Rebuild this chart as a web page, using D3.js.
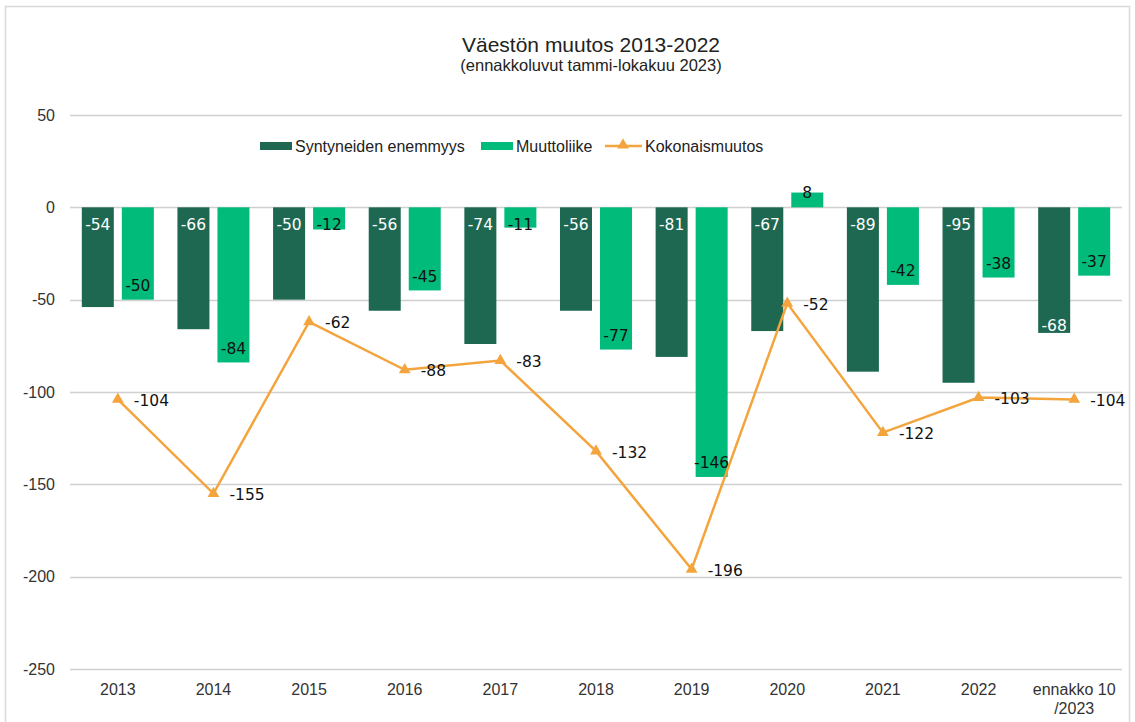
<!DOCTYPE html>
<html>
<head>
<meta charset="utf-8">
<script src="https://cdn.jsdelivr.net/npm/d3@7"></script>
<style>
  body { margin: 0; background: #fff; }
  svg { display: block; }
</style>
</head>
<body>
<script>
// data
const categories = ['2013', '2014', '2015', '2016', '2017', '2018', '2019', '2020', '2021', '2022', 'ennakko 10\n/2023'];
const syntyneet = [-54, -66, -50, -56, -74, -56, -81, -67, -89, -95, -68];
const muutto = [-50, -84, -12, -45, -11, -77, -146, 8, -42, -38, -37];
const kokonais = [-104, -155, -62, -88, -83, -132, -196, -52, -122, -103, -104];
const yTicks = [50, 0, -50, -100, -150, -200, -250];

const width = 1135, height = 722;
const narrow = "'Liberation Sans Narrow', 'Arial Narrow', 'Liberation Sans', sans-serif";
const wide = "'DejaVu Sans', Verdana, sans-serif";

let svg = d3.select('body').append('svg')
  .attr('width', width).attr('height', height);

// chart border
svg.append('rect')
  .attr('x', 5.5).attr('y', 6.5).attr('width', 1124).attr('height', 740)
  .attr('fill', 'none').attr('stroke', '#d9d9d9').attr('stroke-width', 1.5);

var x0 = d3.scaleBand().domain(categories).range([70, 1122]);
var x1 = d3.scaleBand().domain(['s', 'm']).range([0, x0.bandwidth()])
  .paddingInner(0.2).paddingOuter(0.295);
var y = d3.scaleLinear().domain([-250, 50]).range([669, 115]);

// gridlines + y labels
svg.append('g').selectAll('line').data(yTicks).join('line')
  .attr('x1', 70).attr('x2', 1122)
  .attr('y1', d => Math.round(y(d)) + 0.5).attr('y2', d => Math.round(y(d)) + 0.5)
  .attr('stroke', '#d0d0d0').attr('stroke-width', 1.3);

svg.append('g').selectAll('text').data(yTicks).join('text')
  .attr('x', 55).attr('y', d => y(d)).attr('dy', '0.35em')
  .attr('text-anchor', 'end')
  .style('font-family', narrow).style('font-size', '16px').attr('fill', '#333')
  .text(d => d);

// x labels
let xl = svg.append('g').selectAll('text').data(categories).join('text')
  .attr('x', d => x0(d) + x0.bandwidth() / 2).attr('y', 695)
  .attr('text-anchor', 'middle')
  .style('font-family', narrow).style('font-size', '16px').attr('fill', '#333');
xl.each(function(d) {
  d.split('\n').forEach((t, i) => {
    d3.select(this).append('tspan')
      .attr('x', x0(d) + x0.bandwidth() / 2).attr('dy', i ? 19 : 0).text(t);
  });
});

// bars
const dark = '#1e6852', light = '#00bb7a', orange = '#f4a43c';
svg.append('g').selectAll('rect').data(syntyneet).join('rect')
  .attr('x', (d, i) => x0(categories[i]) + x1('s'))
  .attr('width', x1.bandwidth())
  .attr('y', d => y(Math.max(0, d)))
  .attr('height', d => Math.abs(y(d) - y(0)))
  .attr('fill', dark);
svg.append('g').selectAll('rect').data(muutto).join('rect')
  .attr('x', (d, i) => x0(categories[i]) + x1('m'))
  .attr('width', x1.bandwidth())
  .attr('y', d => y(Math.max(0, d)))
  .attr('height', d => Math.abs(y(d) - y(0)))
  .attr('fill', light);

// bar labels
svg.append('g').selectAll('text').data(syntyneet).join('text')
  .attr('x', (d, i) => x0(categories[i]) + x1('s') + x1.bandwidth() / 2)
  .attr('y', (d, i) => i == categories.length - 1 ? y(d) - 7 : y(0) + 17)
  .attr('dy', '0.35em').attr('text-anchor', 'middle')
  .style('font-family', wide).style('font-size', '15.5px').attr('fill', '#fff')
  .text(d => d);
svg.append('g').selectAll('text').data(muutto).join('text')
  .attr('x', (d, i) => x0(categories[i]) + x1('m') + x1.bandwidth() / 2)
  .attr('y', d => d > 0 ? y(d) : Math.max(y(d) - 14, y(0) + 17))
  .attr('dy', '0.35em').attr('text-anchor', 'middle')
  .style('font-family', wide).style('font-size', '15.5px').attr('fill', '#111')
  .text(d => d);

// total line
var line = d3.line()
  .x((d, i) => x0(categories[i]) + x0.bandwidth() / 2)
  .y(d => y(d));
svg.append('path').datum(kokonais)
  .attr('d', line).attr('fill', 'none')
  .attr('stroke', orange).attr('stroke-width', 2.5);
var tri = d3.symbol().type(d3.symbolTriangle).size(60);
svg.append('g').selectAll('path').data(kokonais).join('path')
  .attr('transform', (d, i) => `translate(${x0(categories[i]) + x0.bandwidth() / 2},${y(d)})`)
  .attr('d', tri).attr('fill', orange);
svg.append('g').selectAll('text').data(kokonais).join('text')
  .attr('x', (d, i) => x0(categories[i]) + x0.bandwidth() / 2 + 16)
  .attr('y', d => y(d) + 1).attr('dy', '0.35em')
  .style('font-family', wide).style('font-size', '15.5px').attr('fill', '#111')
  .text(d => d);

// title
svg.append('text').attr('x', 591).attr('y', 52).attr('text-anchor', 'middle')
  .style('font-family', narrow).style('font-size', '21px').attr('fill', '#222')
  .text('Väestön muutos 2013-2022');
svg.append('text').attr('x', 591).attr('y', 71).attr('text-anchor', 'middle')
  .style('font-family', narrow).style('font-size', '16.5px').attr('fill', '#222')
  .text('(ennakkoluvut tammi-lokakuu 2023)');

// legend
let lg = svg.append('g').style('font-family', "'Liberation Sans', Arial, sans-serif")
  .style('font-size', '16px').attr('fill', '#222');
lg.append('rect').attr('x', 260).attr('y', 142).attr('width', 32).attr('height', 8).attr('fill', dark);
lg.append('text').attr('x', 295).attr('y', 146).attr('dy', '0.35em').text('Syntyneiden enemmyys');
lg.append('rect').attr('x', 481).attr('y', 142).attr('width', 32).attr('height', 8).attr('fill', light);
lg.append('text').attr('x', 516).attr('y', 146).attr('dy', '0.35em').text('Muuttoliike');
lg.append('line').attr('x1', 605).attr('x2', 642).attr('y1', 146).attr('y2', 146)
  .attr('stroke', orange).attr('stroke-width', 2.5);
lg.append('path').attr('transform', 'translate(623,145)').attr('d', tri).attr('fill', orange);
lg.append('text').attr('x', 645).attr('y', 146).attr('dy', '0.35em').text('Kokonaismuutos');
</script>
</body>
</html>
